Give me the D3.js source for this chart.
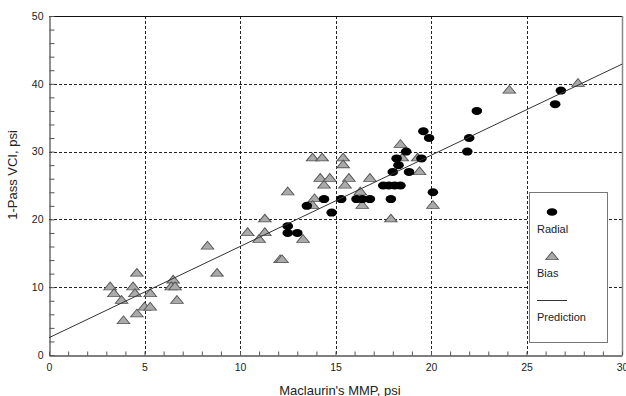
<!DOCTYPE html>
<html>
<head>
<meta charset="utf-8">
<script src="https://cdn.jsdelivr.net/npm/d3@7"></script>
<style>
    body { margin: 0; background: #fff; }
    svg { display: block; font-family: "Liberation Sans", Arial, sans-serif; }
</style>
</head>
<body>
<svg id="canvas" width="626" height="396"></svg>
<script>
// Bias (triangles): [MMP, VCI]
var biasX = [3.2, 3.4, 3.8, 3.9, 4.4, 4.6, 4.5, 4.6, 5.0, 5.3, 5.3, 6.5, 6.4, 6.6, 6.7, 8.3, 8.8,
    10.4, 11.0, 11.3, 11.3, 12.1, 12.2, 13.3, 12.5, 13.8, 14.3, 13.9, 13.8, 14.2, 14.4, 14.7,
    15.4, 15.4, 15.7, 15.5, 16.8, 16.3, 16.4, 17.9, 18.4, 18.5, 19.3, 19.4, 20.1, 24.1, 27.7];
var biasY = [10, 9, 8, 5, 10, 12, 9, 6, 7, 9, 7, 11, 10, 10, 8, 16, 12,
    18, 17, 18, 20, 14, 14, 17, 24, 29, 29, 23, 22, 26, 25, 26,
    29, 28, 26, 25, 26, 24, 22, 20, 31, 29, 29, 27, 22, 39, 40];

// Radial (black ellipses)
var radialX = [12.5, 12.5, 13.0, 13.5, 14.4, 14.8, 15.3, 16.1, 16.4, 16.8, 17.9, 17.5, 17.8, 18.1,
    18.4, 18.0, 18.85, 18.3, 18.2, 18.7, 19.5, 19.6, 19.9, 20.1, 21.9, 22.0, 22.4, 26.5, 26.8];
var radialY = [19, 18, 18, 22, 23, 21, 23, 23, 23, 23, 23, 25, 25, 25,
    25, 27, 27, 28, 29, 30, 29, 33, 32, 24, 30, 32, 36, 37, 39];

// Prediction line
var predX = [0, 30];
var predY = [2.55, 42.9];

var xTicks = [0, 5, 10, 15, 20, 25, 30];
var yTicks = [0, 10, 20, 30, 40, 50];
var legendLabels = ['Radial', 'Bias', 'Prediction'];

var svg = d3.select('#canvas');

var plotLeft = 49, plotRight = 622, plotTop = 16, plotBottom = 355;

var x = d3.scaleLinear().domain([0, 30]).range([plotLeft, plotRight]);
var y = d3.scaleLinear().domain([0, 50]).range([plotBottom, plotTop]);

// grid
var grid = svg.append('g')
    .attr('stroke', '#222')
    .attr('stroke-width', 1)
    .attr('stroke-dasharray', '3,2');

grid.selectAll('.gx')
    .data([5, 10, 15, 20, 25])
    .enter()
    .append('line')
    .attr('x1', function(d) { return Math.round(x(d)) + 0.5; })
    .attr('x2', function(d) { return Math.round(x(d)) + 0.5; })
    .attr('y1', plotTop)
    .attr('y2', plotBottom);

grid.selectAll('.gy')
    .data([10, 20, 30, 40])
    .enter()
    .append('line')
    .attr('y1', function(d) { return Math.round(y(d)) + 0.5; })
    .attr('y2', function(d) { return Math.round(y(d)) + 0.5; })
    .attr('x1', plotLeft)
    .attr('x2', plotRight);

// frame
svg.append('line')
    .attr('x1', plotLeft).attr('x2', plotRight)
    .attr('y1', plotTop + 0.5).attr('y2', plotTop + 0.5)
    .attr('stroke', '#111').attr('stroke-width', 1.2);
svg.append('line')
    .attr('x1', plotRight + 0.5).attr('x2', plotRight + 0.5)
    .attr('y1', plotTop).attr('y2', plotBottom)
    .attr('stroke', '#888').attr('stroke-width', 1.5);

// axes
var xAxis = d3.axisBottom(x)
    .tickValues(d3.range(0, 31, 1))
    .tickSizeInner(-4)
    .tickSizeOuter(0)
    .tickFormat(function(d) { return xTicks.indexOf(d) >= 0 ? d : ''; });

var gx = svg.append('g')
    .attr('transform', 'translate(0,' + (plotBottom + 0.5) + ')')
    .call(xAxis);
gx.select('.domain').attr('stroke', '#555').attr('stroke-width', 1.3);
gx.selectAll('.tick line').attr('stroke', '#555');
gx.selectAll('.tick text')
    .attr('y', 8)
    .attr('fill', '#222')
    .style('font-size', '10.5px')
    .style('font-family', '"Liberation Sans", Arial, sans-serif');

var yAxis = d3.axisLeft(y)
    .tickValues(d3.range(0, 51, 2))
    .tickSizeInner(-5)
    .tickSizeOuter(0)
    .tickFormat(function(d) { return yTicks.indexOf(d) >= 0 ? d : ''; });

var gy = svg.append('g')
    .attr('transform', 'translate(' + (plotLeft + 0.5) + ',0)')
    .call(yAxis);
gy.select('.domain').attr('stroke', '#555').attr('stroke-width', 1.3);
gy.selectAll('.tick line').attr('stroke', '#555');
gy.selectAll('.tick text')
    .attr('x', -6)
    .attr('fill', '#222')
    .style('font-size', '10.5px')
    .style('font-family', '"Liberation Sans", Arial, sans-serif');

// axis titles
svg.append('text')
    .attr('x', 340)
    .attr('y', 395)
    .attr('text-anchor', 'middle')
    .style('font-size', '13px')
    .attr('fill', '#222')
    .text("Maclaurin's MMP, psi");

svg.append('text')
    .attr('transform', 'translate(17,175) rotate(-90)')
    .attr('text-anchor', 'middle')
    .style('font-size', '13px')
    .attr('fill', '#222')
    .text('1-Pass VCI, psi');

// markers
var tri = d3.symbol().type(d3.symbolTriangle).size(48);

svg.append('g')
    .selectAll('path')
    .data(d3.range(biasX.length))
    .enter()
    .append('path')
    .attr('d', tri)
    .attr('transform', function(i) {
        return 'translate(' + x(biasX[i]) + ',' + y(biasY[i]) + ') scale(1.2,0.85)';
    })
    .attr('fill', '#aaa')
    .attr('stroke', '#555')
    .attr('stroke-width', 0.9);

svg.append('g')
    .selectAll('ellipse')
    .data(d3.range(radialX.length))
    .enter()
    .append('ellipse')
    .attr('cx', function(i) { return x(radialX[i]); })
    .attr('cy', function(i) { return y(radialY[i]); })
    .attr('rx', 5.3)
    .attr('ry', 4)
    .attr('fill', '#000');

// prediction line
var line = d3.line()
    .x(function(d) { return x(d[0]); })
    .y(function(d) { return y(d[1]); });

svg.append('path')
    .datum(d3.zip(predX, predY))
    .attr('d', line)
    .attr('fill', 'none')
    .attr('stroke', '#333')
    .attr('stroke-width', 1);

// legend
var lg = svg.append('g').attr('transform', 'translate(529,192)');

lg.append('rect')
    .attr('x', 0.5).attr('y', 0.5)
    .attr('width', 78).attr('height', 150)
    .attr('fill', '#fff')
    .attr('stroke', '#777')
    .attr('stroke-width', 1);

lg.append('ellipse')
    .attr('cx', 23).attr('cy', 20)
    .attr('rx', 5.3).attr('ry', 3.8)
    .attr('fill', '#000');

lg.append('path')
    .attr('d', tri)
    .attr('transform', 'translate(23,65) scale(1.2,0.85)')
    .attr('fill', '#aaa')
    .attr('stroke', '#555')
    .attr('stroke-width', 0.9);

lg.append('line')
    .attr('x1', 8).attr('x2', 38)
    .attr('y1', 108.5).attr('y2', 108.5)
    .attr('stroke', '#333');

lg.selectAll('.lt')
    .data(legendLabels)
    .enter()
    .append('text')
    .attr('x', 8)
    .attr('y', function(d, i) { return 41 + i * 44; })
    .style('font-size', '11px')
    .attr('fill', '#222')
    .text(function(d) { return d; });
</script>
</body>
</html>
